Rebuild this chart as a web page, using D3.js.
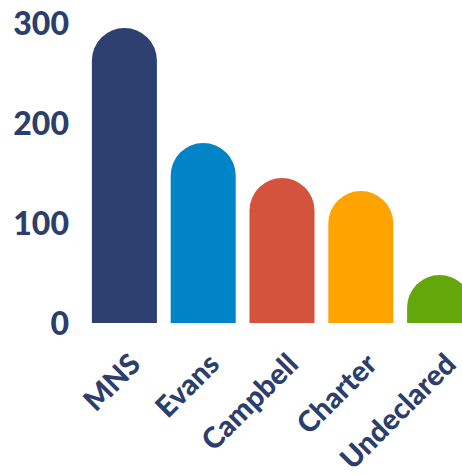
<!DOCTYPE html>
<html>
<head>
<meta charset="utf-8">
<script src="https://cdn.jsdelivr.net/npm/d3@7"></script>
<style>
  html, body { margin: 0; padding: 0; background: #fff; }
  svg text { font-family: Lato, sans-serif; font-weight: 900; fill: #2c3e6b; }
</style>
</head>
<body>
<svg id="chart" width="462" height="475"></svg>
<script>
// Vote counts per group
const categories = ["MNS", "Evans", "Campbell", "Charter", "Undeclared"];
const values = [295, 180, 145, 132, 48];
const colors = ["#2d4070", "#0084c8", "#d3533c", "#ffa300", "#64a70b"];
const yTicks = [0, 100, 200, 300];

const svg = d3.select("#chart");
const baseY = 323;

const x = d3.scaleBand()
  .domain(categories)
  .range([85, 479])
  .paddingInner(0.175)
  .paddingOuter(0.0875);

const y = d3.scaleLinear()
  .domain([0, 300])
  .range([baseY, 23]);

// Bars with a fully rounded top
function pillPath(xl, w, top, bottom) {
  const r = Math.min(w / 2, bottom - top);
  const p = d3.path();
  p.moveTo(xl, bottom);
  p.lineTo(xl, top + r);
  p.arcTo(xl, top, xl + w / 2, top, r);
  p.arcTo(xl + w, top, xl + w, top + r, r);
  p.lineTo(xl + w, bottom);
  p.closePath();
  return p.toString();
}

svg.append("g")
  .selectAll("path")
  .data(categories.map((c, i) => ({ c, v: values[i], col: colors[i] })))
  .join("path")
  .attr("d", d => pillPath(x(d.c), x.bandwidth(), y(d.v), y(0)))
  .attr("fill", d => d.col);

const fontStack = "Lato, sans-serif";

// Y axis labels
const yAxis = d3.axisLeft(y).tickValues(yTicks).tickSize(0).tickPadding(0);
const gy = svg.append("g").attr("transform", "translate(69,0)").call(yAxis);
gy.select(".domain").remove();
gy.selectAll("text")
  .attr("font-size", 32)
  .attr("dy", "0.36em")
  .style("font-family", fontStack)
  .style("font-weight", 900)
  .style("fill", "#2c3e6b");

// Rotated category labels
const xAxis = d3.axisBottom(x).tickSize(0).tickPadding(0);
const gx = svg.append("g").attr("transform", `translate(0,${baseY})`).call(xAxis);
gx.select(".domain").remove();
gx.selectAll("text")
  .attr("font-size", 29)
  .attr("text-anchor", "end")
  .attr("x", 0).attr("y", 0).attr("dy", 0)
  .attr("transform", "translate(18,43) rotate(-45)")
  .style("font-family", fontStack)
  .style("font-weight", 900)
  .style("fill", "#2c3e6b");
</script>
</body>
</html>
